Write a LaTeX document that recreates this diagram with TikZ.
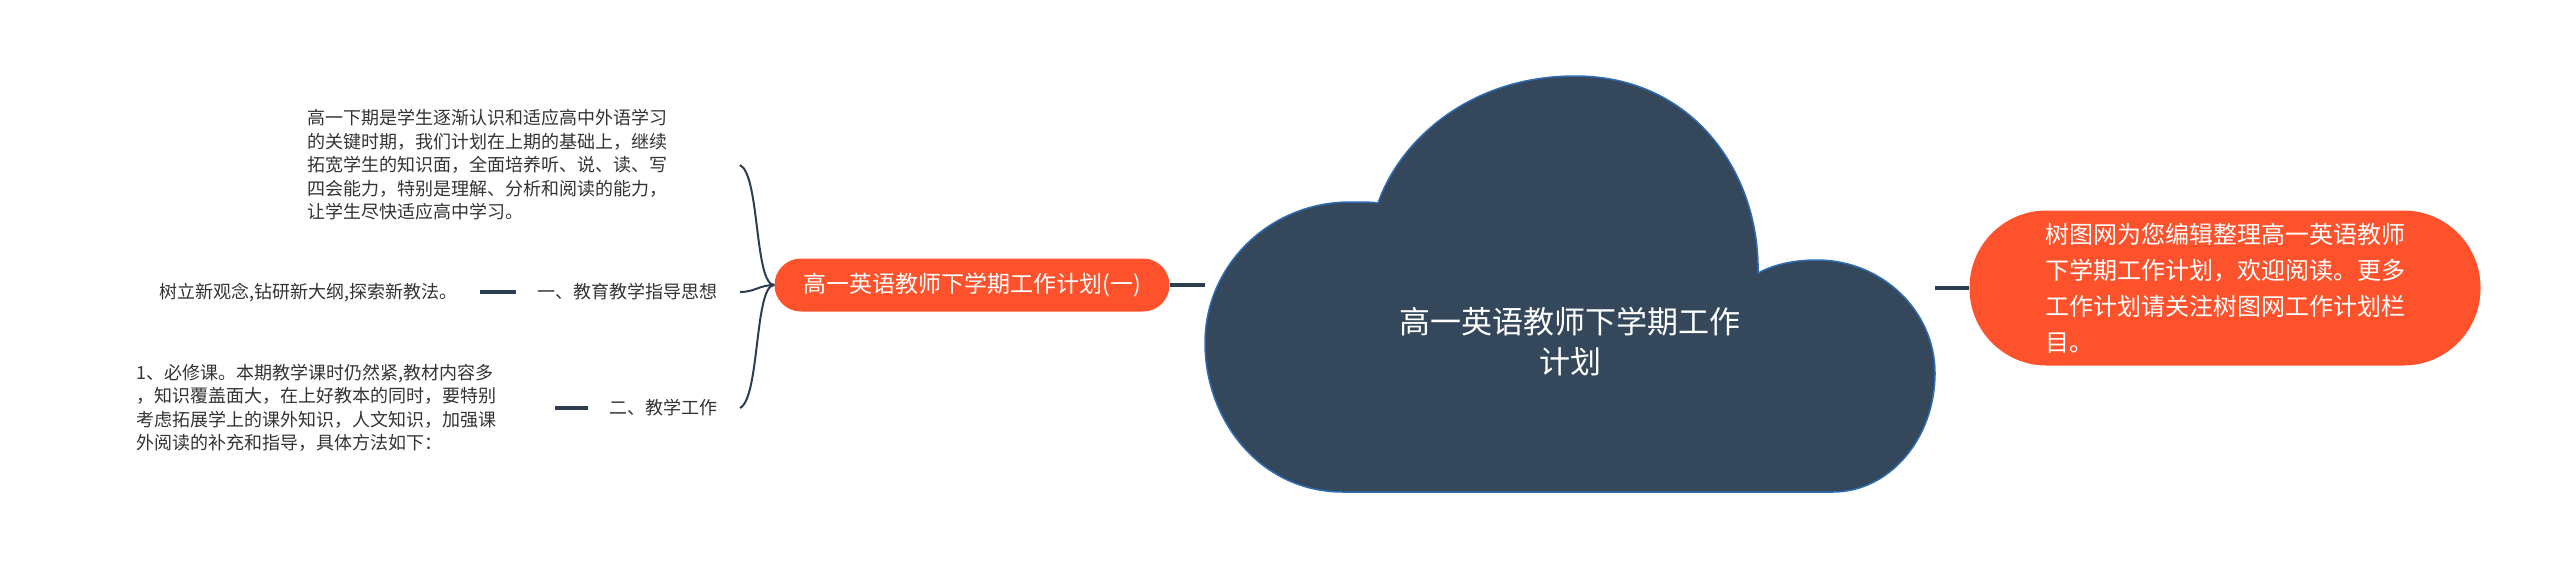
\documentclass[tikz,border=0pt]{standalone}
\usepackage{fontspec}
\usepackage{tikz}
\usetikzlibrary{positioning}
\newfontfamily\cjk{Noto Sans CJK SC}
\definecolor{slate}{RGB}{53,72,91}
\definecolor{rimblue}{RGB}{46,109,180}
\definecolor{linecol}{RGB}{44,62,80}
\definecolor{treeorange}{RGB}{254,82,44}
\definecolor{txtgray}{RGB}{51,51,51}

\begin{document}
\begin{tikzpicture}[x=1pt,y=-1pt]
            \tikzset{every node/.style={font=\cjk},
                    pill/.style={fill=treeorange, text=white, inner sep=0pt},
                    plain/.style={inner xsep=22pt, inner ysep=0pt, text=txtgray, align=left,
                                  font=\cjk\fontsize{18}{23.5}\selectfont},
                    brace/.style={draw=linecol, line width=2pt},
                    every edge/.style={draw=linecol, line width=4pt}}
            \useasboundingbox (0,0) rectangle (2560,571);
            % cloud
            \draw[fill=slate, draw=rimblue, line width=1.5pt] (1378,203)
                .. controls (1400,140) and (1470,76) .. (1575,76)
                .. controls (1695,76) and (1760,175) .. (1758,273)
                .. controls (1775,264) and (1795,260) .. (1817,260)
                .. controls (1882,260) and (1935,311) .. (1935,373)
                .. controls (1935,439) and (1889,492) .. (1833,492)
                -- (1343,492)
                .. controls (1260,492) and (1205,420) .. (1205,343)
                .. controls (1205,265) and (1270,202) .. (1350,202)
                .. controls (1362,202) and (1372,202) .. cycle;
            \node[text=white, align=center, minimum width=730pt,
                  font=\cjk\fontsize{31}{40}\selectfont] (0) at (1570,342) {高一英语教师下学期工作\\计划};
            \node[pill, minimum width=395pt, minimum height=53pt, rounded corners=26.5pt,
                  font=\cjk\fontsize{23}{28}\selectfont] (1) at (972,285) {高一英语教师下学期工作计划(一)};
            \node[pill, minimum width=511pt, minimum height=155pt, rounded corners=77pt, align=left,
                  font=\cjk\fontsize{24}{36}\selectfont] (2) at (2225,288)
                  {树图网为您编辑整理高一英语教师\\下学期工作计划，欢迎阅读。更多\\工作计划请关注树图网工作计划栏\\目。};
            \node[plain, anchor=east, text width=410pt] (3) at (740,165)
                  {高一下期是学生逐渐认识和适应高中外语学习\\的关键时期，我们计划在上期的基础上，继续\\拓宽学生的知识面，全面培养听、说、读、写\\四会能力，特别是理解、分析和阅读的能力，\\让学生尽快适应高中学习。};
            \node[plain, anchor=east] (4) at (740,292) {一、教育教学指导思想};
            \node[plain, anchor=east] (5) at (740,408) {二、教学工作};
            \node[plain, anchor=east] (6) at (480,292) {树立新观念,钻研新大纲,探索新教法。};
            \node[plain, anchor=west, text width=397pt] (7) at (114,408)
                  {1、必修课。本期教学课时仍然紧,教材内容多\\，知识覆盖面大，在上好教本的同时，要特别\\考虑拓展学上的课外知识，人文知识，加强课\\外阅读的补充和指导，具体方法如下：};
            \path (1.east) edge (0.west |- 1.east);
            \path (0.east |- 2.west) edge (2.west);
            \draw[brace] (1.west) .. controls +(-20,0) and +(20,10) .. (3.east);
            \draw[brace] (1.west) .. controls +(-15,0) and +(15,0) .. (4.east);
            \draw[brace] (1.west) .. controls +(-20,0) and +(20,-10) .. (5.east);
            \path (4.west) edge (6.east);
            \path (5.west) edge (5.west -| 7.east);
        \end{tikzpicture}
\end{document}
